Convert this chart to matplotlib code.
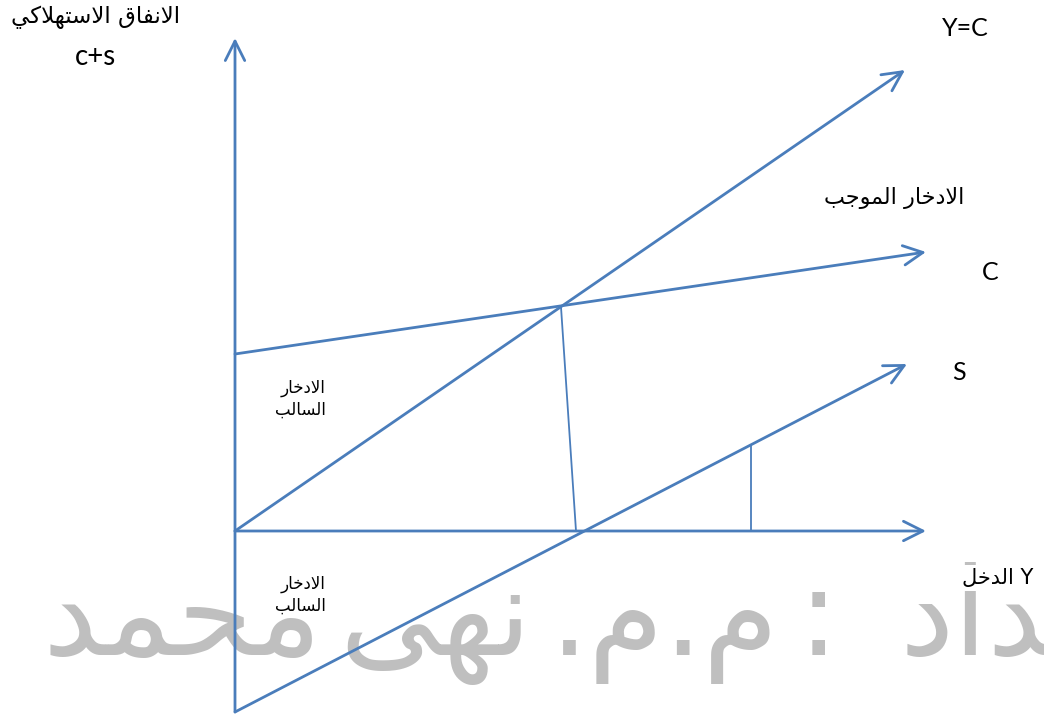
import matplotlib
matplotlib.use("Agg")
import matplotlib.pyplot as plt

BLUE = "#4a7dbb"
GRAY = "#bfbfbf"

# diagram coordinates: origin at the corner of the two axes, 1 unit ~ 1 px
income_axis = ([0, 691], [0, 0])
spending_axis = ([0, 0], [-181, 493])
line_45 = ([0, 670], [0, 461])          # Y=C
consumption = ([0, 691], [177, 279])    # C
saving = ([0, 672], [-181, 167])        # S
breakeven_drop = ([326, 341], [224, 0])
saving_drop = ([516, 516], [86, 0])

# Arabic contextual forms: (isolated, final, initial, medial)
FORMS = {
    'ا': (0xFE8D, 0xFE8E, None, None),
    'أ': (0xFE83, 0xFE84, None, None),
    'إ': (0xFE87, 0xFE88, None, None),
    'ب': (0xFE8F, 0xFE90, 0xFE91, 0xFE92),
    'ت': (0xFE95, 0xFE96, 0xFE97, 0xFE98),
    'ج': (0xFE9D, 0xFE9E, 0xFE9F, 0xFEA0),
    'ح': (0xFEA1, 0xFEA2, 0xFEA3, 0xFEA4),
    'خ': (0xFEA5, 0xFEA6, 0xFEA7, 0xFEA8),
    'د': (0xFEA9, 0xFEAA, None, None),
    'ذ': (0xFEAB, 0xFEAC, None, None),
    'ر': (0xFEAD, 0xFEAE, None, None),
    'س': (0xFEB1, 0xFEB2, 0xFEB3, 0xFEB4),
    'ع': (0xFEC9, 0xFECA, 0xFECB, 0xFECC),
    'ف': (0xFED1, 0xFED2, 0xFED3, 0xFED4),
    'ق': (0xFED5, 0xFED6, 0xFED7, 0xFED8),
    'ك': (0xFED9, 0xFEDA, 0xFEDB, 0xFEDC),
    'ل': (0xFEDD, 0xFEDE, 0xFEDF, 0xFEE0),
    'م': (0xFEE1, 0xFEE2, 0xFEE3, 0xFEE4),
    'ن': (0xFEE5, 0xFEE6, 0xFEE7, 0xFEE8),
    'ه': (0xFEE9, 0xFEEA, 0xFEEB, 0xFEEC),
    'و': (0xFEED, 0xFEEE, None, None),
    'ى': (0xFEEF, 0xFEF0, None, None),
    'ي': (0xFEF1, 0xFEF2, 0xFEF3, 0xFEF4),
}
LAM_ALEF = {'ا': (0xFEFB, 0xFEFC, None, None),
            'أ': (0xFEF7, 0xFEF8, None, None),
            'إ': (0xFEF9, 0xFEFA, None, None)}


def shape(text):
    # pick joined glyph forms, then flip to visual (left to right) order
    items = []
    i = 0
    while i < len(text):
        ch = text[i]
        if ch == 'ل' and i + 1 < len(text) and text[i + 1] in LAM_ALEF:
            items.append(LAM_ALEF[text[i + 1]])
            i += 2
            continue
        items.append(FORMS.get(ch, ch))
        i += 1
    out = []
    for k, it in enumerate(items):
        if not isinstance(it, tuple):
            out.append(it)
            continue
        prev = items[k - 1] if k > 0 else None
        nxt = items[k + 1] if k + 1 < len(items) else None
        j_prev = isinstance(prev, tuple) and prev[2] is not None
        j_next = it[2] is not None and isinstance(nxt, tuple)
        if j_prev and j_next:
            code = it[3]
        elif j_prev:
            code = it[1]
        elif j_next:
            code = it[2]
        else:
            code = it[0]
        out.append(chr(code))
    return ''.join(reversed(out))


def shape_lines(text):
    return '\n'.join(shape(t) for t in text.split('\n'))


fig = plt.figure(figsize=(10.44, 7.21), dpi=100)
ax = fig.add_axes([0, 0, 1, 1])
ax.set_xlim(-235, 809)
ax.set_ylim(-190, 531)
ax.axis('off')

# watermark, drawn underneath
wm_words = ["محمد", "نهى", "م.م.", ":", "إعداد"]
wm_x = [-53, 200, 430, 583, 665]
wm_ha = ["center", "center", "center", "center", "left"]
for w, x, ha in zip(wm_words, wm_x, wm_ha):
    ax.text(x, -124, shape(w), fontsize=88, color=GRAY,
            family='DejaVu Sans', ha=ha, va='baseline', zorder=0)


def arrow(xs, ys, lw=2.0):
    ax.annotate("", xy=(xs[1], ys[1]), xytext=(xs[0], ys[0]),
                arrowprops=dict(arrowstyle="->,head_length=1.4,head_width=0.7",
                                color=BLUE, lw=lw, shrinkA=0, shrinkB=0),
                zorder=3)


for line in (income_axis, line_45, consumption, saving):
    arrow(*line)
arrow(spending_axis[0], spending_axis[1])

ax.plot(*breakeven_drop, color=BLUE, lw=1.3, zorder=3)
ax.plot(*saving_drop, color=BLUE, lw=1.3, zorder=3)

# labels
AR = 'DejaVu Sans'
LAT = 'Lato'
ax.text(-139, 514, shape("الانفاق الاستهلاكي"), family=AR, fontsize=16.5,
        ha='center', va='center')
ax.text(-139, 474, "c+s", family=LAT, fontsize=20, ha='center', va='center')
ax.text(730, 502, "Y=C", family=LAT, fontsize=18, ha='center', va='center')
ax.text(659, 333, shape("الادخار الموجب"), family=AR, fontsize=16,
        ha='center', va='center')
ax.text(755, 259, "C", family=LAT, fontsize=18, ha='center', va='center')
ax.text(724, 159, "S", family=LAT, fontsize=18, ha='center', va='center')
for ty in (132, -64):
    ax.text(65, ty, shape_lines("الادخار\nالسالب"), family=AR, fontsize=12,
            ha='center', va='center', multialignment='right', linespacing=1.3,
            zorder=4)
ax.text(763, -47, shape("الدخل") + " Y", family=AR, fontsize=15,
        ha='center', va='center', zorder=4,
        bbox=dict(facecolor='white', edgecolor='none', pad=2))

fig.savefig("out.png", dpi=100, facecolor='white')
